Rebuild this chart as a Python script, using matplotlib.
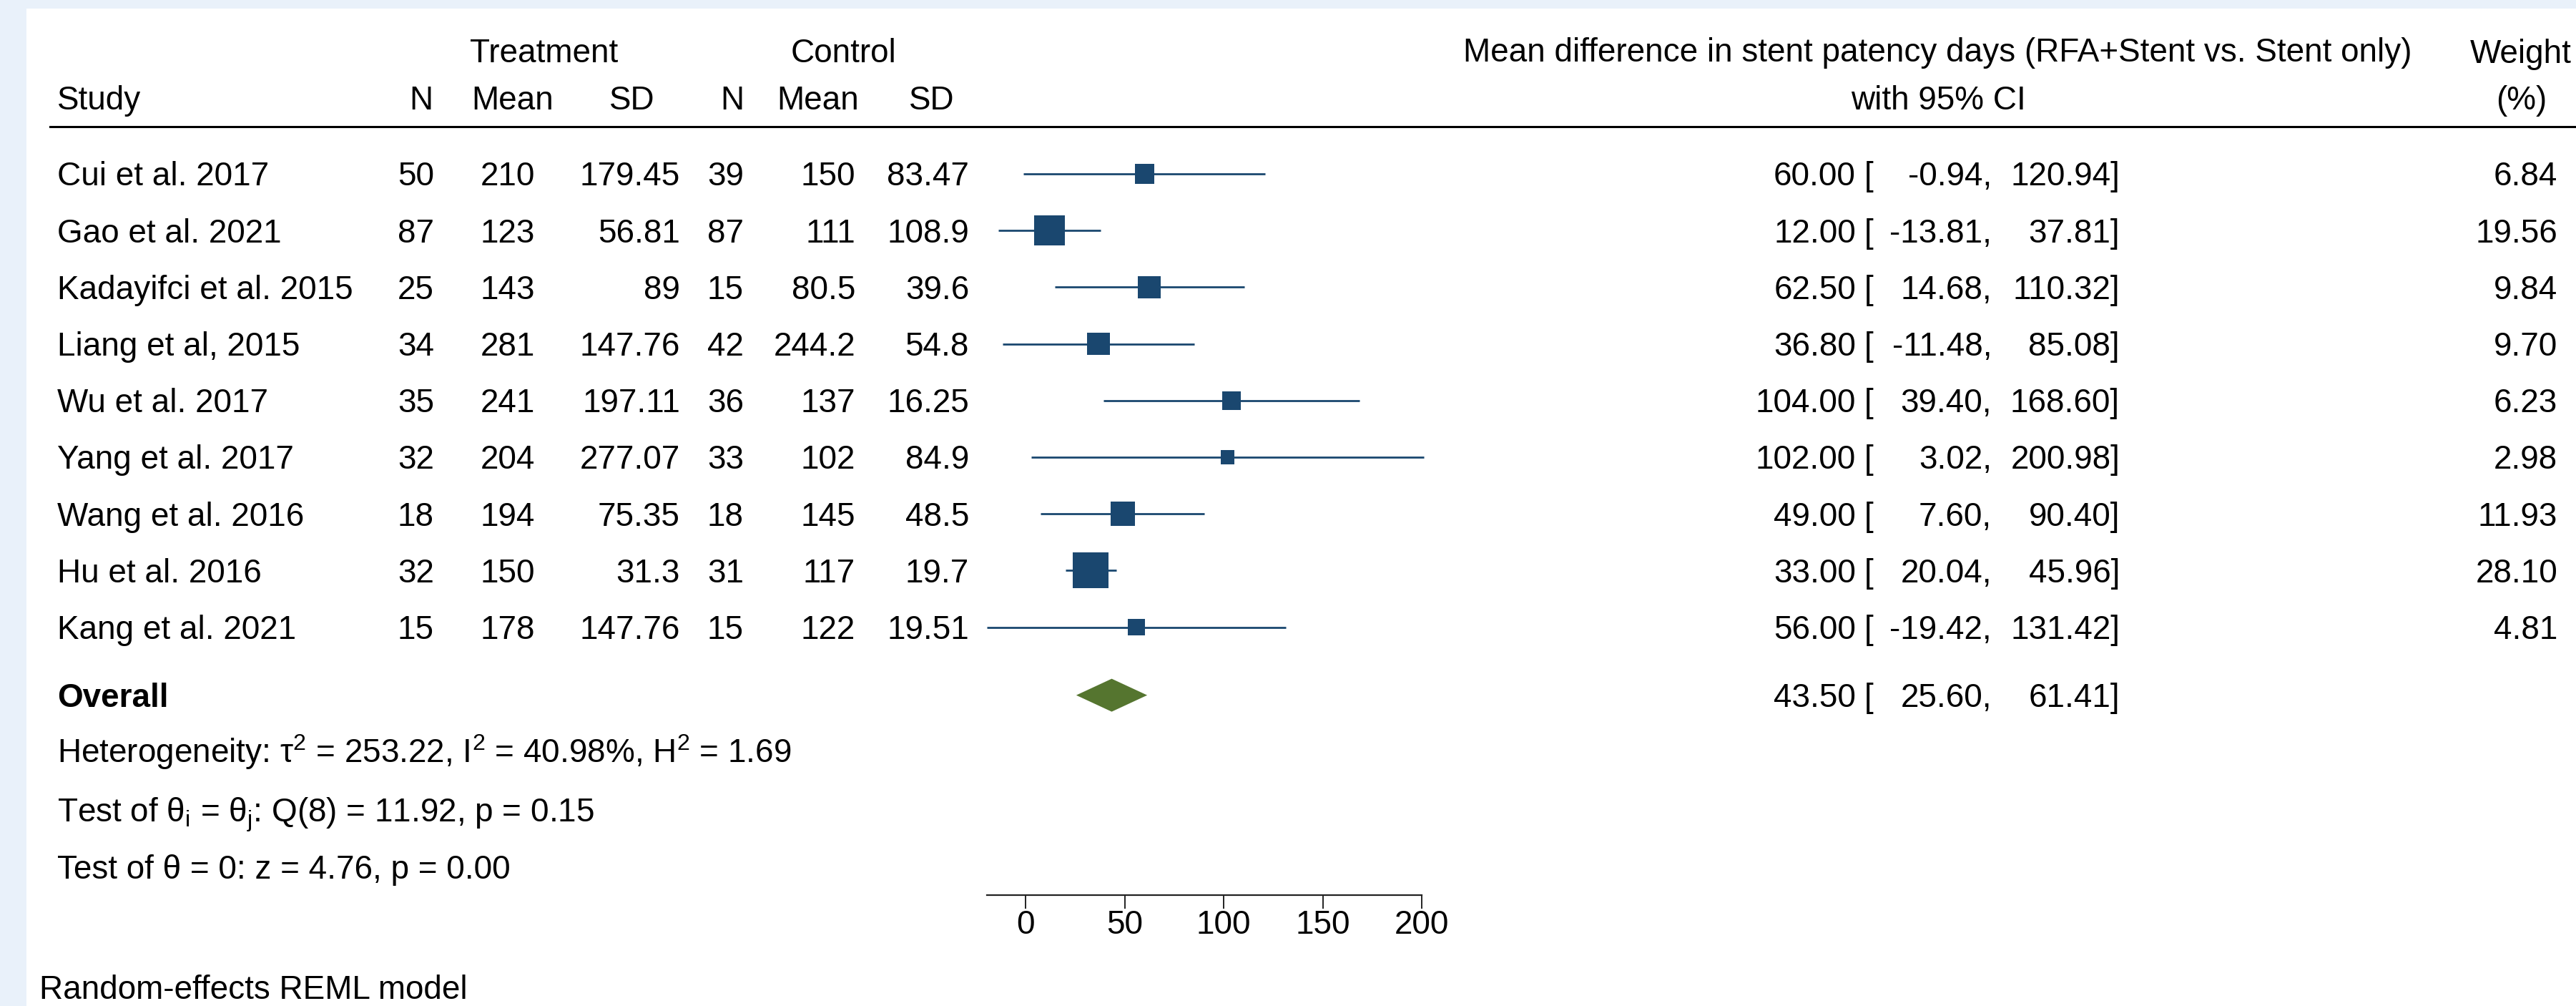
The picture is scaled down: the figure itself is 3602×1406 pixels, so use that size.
import numpy as np
import matplotlib
matplotlib.use('Agg')
import matplotlib.pyplot as plt
from matplotlib.patches import Rectangle

plt.rcParams['font.family'] = ['Liberation Sans', 'DejaVu Sans']
plt.rcParams['mathtext.fontset'] = 'custom'
plt.rcParams['mathtext.rm'] = 'Liberation Sans'
plt.rcParams['mathtext.it'] = 'Liberation Sans:italic'
plt.rcParams['mathtext.bf'] = 'Liberation Sans:bold'

# ---- data ----
studies = ['Cui et al. 2017', 'Gao et al. 2021', 'Kadayifci et al. 2015', 'Liang et al, 2015',
           'Wu et al. 2017', 'Yang et al. 2017', 'Wang et al. 2016', 'Hu et al. 2016', 'Kang et al. 2021']
n_t = [50, 87, 25, 34, 35, 32, 18, 32, 15]
mean_t = [210, 123, 143, 281, 241, 204, 194, 150, 178]
sd_t = [179.45, 56.81, 89, 147.76, 197.11, 277.07, 75.35, 31.3, 147.76]
n_c = [39, 87, 15, 42, 36, 33, 18, 31, 15]
mean_c = [150, 111, 80.5, 244.2, 137, 102, 145, 117, 122]
sd_c = [83.47, 108.9, 39.6, 54.8, 16.25, 84.9, 48.5, 19.7, 19.51]
md = np.array([60.00, 12.00, 62.50, 36.80, 104.00, 102.00, 49.00, 33.00, 56.00])
ci_lo = np.array([-0.94, -13.81, 14.68, -11.48, 39.40, 3.02, 7.60, 20.04, -19.42])
ci_hi = np.array([120.94, 37.81, 110.32, 85.08, 168.60, 200.98, 90.40, 45.96, 131.42])
weight = np.array([6.84, 19.56, 9.84, 9.70, 6.23, 2.98, 11.93, 28.10, 4.81])

overall_md, overall_lo, overall_hi = 43.50, 25.60, 61.41
tau2, i2, h2 = 253.22, 40.98, 1.69
q_df, q_stat, q_p = 8, 11.92, 0.15
z_stat, z_p = 4.76, 0.00
ticks = [0, 50, 100, 150, 200]

NAVY = '#1a476f'
GREEN = '#55752f'
FS = 33

# ---- layout (pixels of the 3602x1406 canvas) ----
W, H = 3602, 1406
X0_PX, PX_PER_UNIT = 1434, 2.77
ROW0_PX, ROW_PX = 243, 79.2
CAP = 0.716 * FS / 0.72 / 2 / ROW_PX


def px(x):
    return (x - X0_PX) / PX_PER_UNIT


def row(y):
    return (y - ROW0_PX) / ROW_PX


fig = plt.figure(figsize=(W / 100, H / 100), dpi=100, facecolor='#e9f1fa')
fig.patches.append(Rectangle((37 / W, 0), 1, 1 - 12 / H, transform=fig.transFigure,
                             facecolor='white', edgecolor='none', zorder=-1))
ax = fig.add_axes([0, 0, 1, 1])
ax.set_xlim(px(0), px(W))
ax.set_ylim(row(H), row(0))
ax.axis('off')


def tx(x, y, s, ha='left', **kw):
    ax.text(px(x), y + CAP, s, ha=ha, va='baseline', fontsize=FS, color='black', **kw)


rows = np.arange(len(studies))
overall_row = len(studies) + 0.2

# header
tx(761, row(71), 'Treatment', ha='center')
tx(1180, row(71), 'Control', ha='center')
tx(2709, row(70), 'Mean difference in stent patency days (RFA+Stent vs. Stent only)', ha='center')
tx(3525, row(72), 'Weight', ha='center')
tx(80, row(137), 'Study')
col_right = [607, 748, 951, 1040, 1196, 1355]
col_head = [589, 717, 884, 1024, 1144, 1303]
for xh, name in zip(col_head, ['N', 'Mean', 'SD', 'N', 'Mean', 'SD']):
    tx(xh, row(137), name, ha='center')
tx(2710, row(137), 'with 95% CI', ha='center')
tx(3526, row(137), '(%)', ha='center')
ax.axhline(row(177), xmin=70 / W, xmax=1, color='black', lw=2.2)

# study rows
for i, r in enumerate(rows):
    tx(80, r, studies[i])
    vals = [n_t[i], mean_t[i], sd_t[i], n_c[i], mean_c[i], sd_c[i]]
    for xr, v in zip(col_right, vals):
        tx(xr, r, f'{v:g}', ha='right')
    tx(2595, r, f'{md[i]:.2f}', ha='right')
    tx(2607, r, '[')
    tx(2785, r, f'{ci_lo[i]:.2f},', ha='right')
    tx(2964, r, f'{ci_hi[i]:.2f}]', ha='right')
    tx(3576, r, f'{weight[i]:.2f}', ha='right')

ax.hlines(rows, ci_lo, ci_hi, color=NAVY, lw=2.0, zorder=2)
side = 4.8 + 8.53 * np.sqrt(weight)
ax.scatter(md, rows, s=(side * 0.72) ** 2, marker='s', color=NAVY, linewidths=0, zorder=3)

# overall
dh = 23 / ROW_PX
ax.fill([overall_lo, overall_md, overall_hi, overall_md],
        [overall_row, overall_row - dh, overall_row, overall_row + dh], color=GREEN, lw=0)
tx(80, overall_row, 'Overall', fontweight='bold')
tx(2595, overall_row, f'{overall_md:.2f}', ha='right')
tx(2607, overall_row, '[')
tx(2785, overall_row, f'{overall_lo:.2f},', ha='right')
tx(2964, overall_row, f'{overall_hi:.2f}]', ha='right')

tx(80, row(1050), f'Heterogeneity: τ$^2$ = {tau2:.2f}, I$^2$ = {i2:.2f}%, H$^2$ = {h2:.2f}')
tx(80, row(1132), f'Test of θ$_\\mathrm{{i}}$ = θ$_\\mathrm{{j}}$: Q({q_df}) = {q_stat:.2f}, p = {q_p:.2f}')
tx(80, row(1212), f'Test of θ = 0: z = {z_stat:.2f}, p = {z_p:.2f}')
tx(55, row(1380), 'Random-effects REML model')

# x axis
axx = fig.add_axes([0, 1 - 1251 / H, 1, 0.001], sharex=ax)
axx.patch.set_visible(False)
for s in ['left', 'right', 'top']:
    axx.spines[s].set_visible(False)
axx.spines['bottom'].set_bounds(ci_lo.min(), ticks[-1])
axx.spines['bottom'].set_linewidth(1.6)
axx.spines['bottom'].set_color('#222222')
axx.set_yticks([])
axx.set_xticks(ticks)
axx.tick_params(axis='x', direction='out', length=13.7, width=1.4, color='#222222',
                labelsize=FS, pad=1, labelcolor='black')
axx.set_xlim(px(0), px(W))

fig.savefig('out.png', dpi=100, facecolor=fig.get_facecolor())
